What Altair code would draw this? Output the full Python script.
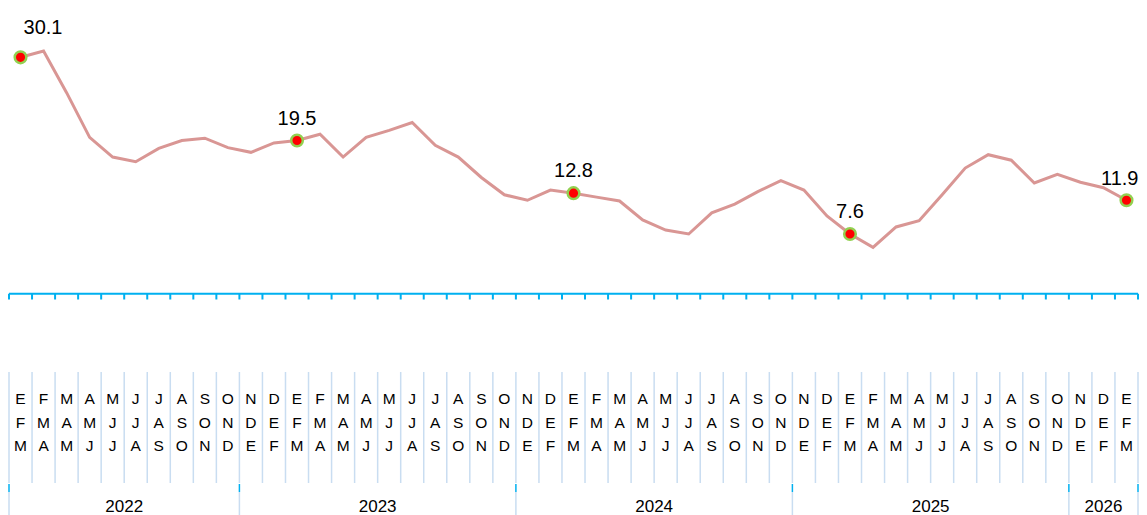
import altair as alt
import pandas as pd

# ---- data ----
values = [30.1, 30.9, 25.6, 19.9, 17.4, 16.8, 18.5, 19.5, 19.8, 18.6,
          18.0, 19.2, 19.5, 20.3, 17.4, 19.9, 20.8, 21.8, 18.9, 17.4,
          14.8, 12.6, 11.9, 13.2, 12.8, 12.3, 11.8, 9.4, 8.1, 7.6,
          10.3, 11.4, 13.0, 14.4, 13.2, 9.9, 7.6, 5.9, 8.5, 9.3,
          12.6, 16.0, 17.7, 17.0, 14.1, 15.2, 14.2, 13.5, 11.9]
row1 = list("EFMAMJJASONDEFMAMJJASONDEFMAMJJASONDEFMAMJJASONDE")
row2 = list("FMAMJJASONDEFMAMJJASONDEFMAMJJASONDEFMAMJJASONDEF")
row3 = list("MAMJJASONDEFMAMJJASONDEFMAMJJASONDEFMAMJJASONDEFM")
year_names = ["2022", "2023", "2024", "2025", "2026"]
year_counts = [10, 12, 12, 12, 3]
marked = [0, 12, 24, 36, 48]

# ---- tables ----
n = len(values)
col_year = [y for y, c in zip(year_names, year_counts) for _ in range(c)]
df = pd.DataFrame({"i": list(range(n)), "v": values, "r1": row1, "r2": row2,
                   "r3": row3, "year": col_year})
df["marked"] = df["i"].isin(marked)
df["label"] = df["v"].map(lambda v: f"{v:.1f}")

bounds = pd.DataFrame({"b": [k - 0.5 for k in range(n + 1)], "z": 0.0})
yb = [-0.5]
for c in year_counts:
    yb.append(yb[-1] + c)
ybounds = pd.DataFrame({"b": yb})
axis_df = pd.DataFrame({"lo": [bounds["b"].min()], "hi": [bounds["b"].max()], "z": [0.0]})

FONT = "Liberation Sans, Arial, Helvetica"
BLUE = "#00B0F0"
PALE = "#C9DDF1"
LAST = n - 1

xsc = alt.Scale(domain=[-0.5, n - 0.5], range=[1, 1130], nice=False, zero=False)
ysc = alt.Scale(domain=[0, 36.38], range=[285.7, 0], nice=False, zero=False)


def X(f):
    return alt.X(f, type="quantitative", scale=xsc, axis=None)


def Yf(f):
    return alt.Y(f, type="quantitative", scale=ysc, axis=None)


base = alt.Chart(df)

line = base.mark_line(color="#D99694", strokeWidth=3).encode(x=X("i"), y=Yf("v"))
pts = base.transform_filter("datum.marked").mark_circle(
    color="#FF0000", stroke="#92D050", strokeWidth=2.5, size=135, opacity=1
).encode(x=X("i"), y=Yf("v"))
lab_mid = base.transform_filter(f"datum.marked && datum.i > 0 && datum.i < {LAST}").mark_text(
    align="center", baseline="alphabetic", dy=-16, fontSize=20, font=FONT, color="#000000"
).encode(x=X("i"), y=Yf("v"), text="label:N")
lab_first = base.transform_filter("datum.i == 0").mark_text(
    align="left", baseline="alphabetic", dx=3, dy=-23, fontSize=20, font=FONT, color="#000000"
).encode(x=X("i"), y=Yf("v"), text="label:N")
lab_last = base.transform_filter(f"datum.i == {LAST}").mark_text(
    align="right", baseline="alphabetic", dx=12, dy=-15, fontSize=20, font=FONT, color="#000000"
).encode(x=X("i"), y=Yf("v"), text="label:N")

axis_line = alt.Chart(axis_df).mark_rule(color=BLUE, strokeWidth=2).encode(
    x=X("lo"), x2="hi:Q", y=Yf("z")
)
axis_ticks = alt.Chart(bounds).mark_rule(color=BLUE, strokeWidth=2).encode(
    x=X("b"), y=Yf("z"), y2=alt.value(291.5)
)

seps = alt.Chart(bounds).mark_rule(color=PALE, strokeWidth=1.5).encode(
    x=X("b"), y=alt.value(364), y2=alt.value(475)
)

rows = []
for fld, ypix in (("r1", 390.7), ("r2", 414.5), ("r3", 438.3)):
    rows.append(base.mark_text(fontSize=15.5, font=FONT, baseline="middle", color="#000000").encode(
        x=X("i"), y=alt.value(ypix), text=f"{fld}:N"))

ysep_top = alt.Chart(ybounds).mark_rule(color=BLUE, strokeWidth=1.5).encode(
    x=X("b"), y=alt.value(476), y2=alt.value(484)
)
ysep_low = alt.Chart(ybounds).mark_rule(color=PALE, strokeWidth=1.5).encode(
    x=X("b"), y=alt.value(484), y2=alt.value(507)
)
year_lab = base.transform_aggregate(c="mean(i)", groupby=["year"]).mark_text(
    fontSize=17, font=FONT, baseline="middle", color="#000000"
).encode(x=X("c"), y=alt.value(498.5), text="year:N")

chart = alt.layer(
    seps, ysep_top, ysep_low, axis_line, axis_ticks, line, pts, lab_mid, lab_first, lab_last,
    *rows, year_lab
).properties(width=1131, height=507, autosize="none", padding=0).configure_view(stroke=None)

chart.save("out.html", embed_options={"renderer": "svg", "actions": False})
